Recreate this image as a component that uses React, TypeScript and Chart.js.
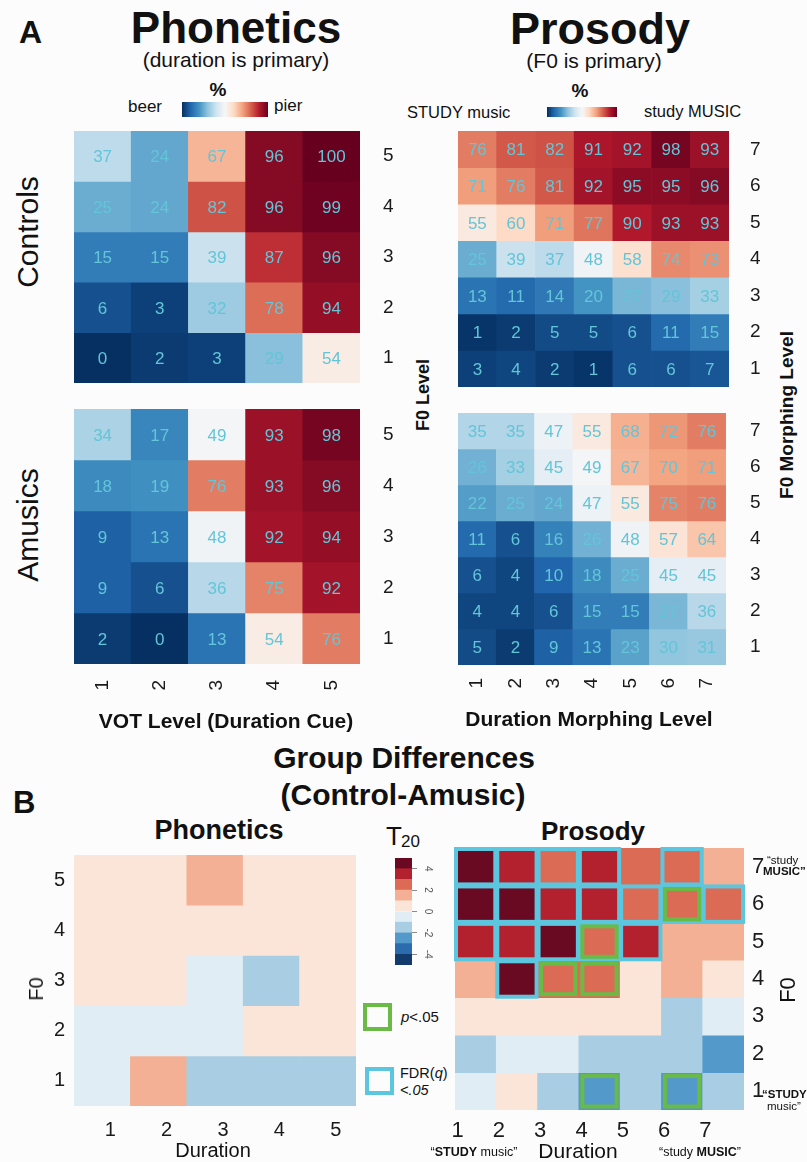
import React, { useEffect, useRef } from 'react';
import { Chart, registerables } from 'chart.js';

Chart.register(...registerables);

const FONT = '"Liberation Sans", Arial, Helvetica, sans-serif';

// ---------------- Data ----------------
// Panel A, Phonetics: % "pier" responses; rows = F0 level (top to bottom), columns = VOT level
const votLevels = ['1', '2', '3', '4', '5'];
const phonF0Levels = [5, 4, 3, 2, 1];
const phonControls = [
  [37, 24, 67, 96, 100],
  [25, 24, 82, 96, 99],
  [15, 15, 39, 87, 96],
  [6, 3, 32, 78, 94],
  [0, 2, 3, 29, 54],
];
const phonAmusics = [
  [34, 17, 49, 93, 98],
  [18, 19, 76, 93, 96],
  [9, 13, 48, 92, 94],
  [9, 6, 36, 75, 92],
  [2, 0, 13, 54, 76],
];

// Panel A, Prosody: % "study MUSIC" responses; rows = F0 morphing level, columns = duration morphing level
const durLevels = ['1', '2', '3', '4', '5', '6', '7'];
const prosF0Levels = [7, 6, 5, 4, 3, 2, 1];
const prosControls = [
  [76, 81, 82, 91, 92, 98, 93],
  [71, 76, 81, 92, 95, 95, 96],
  [55, 60, 71, 77, 90, 93, 93],
  [25, 39, 37, 48, 58, 74, 73],
  [13, 11, 14, 20, 27, 29, 33],
  [1, 2, 5, 5, 6, 11, 15],
  [3, 4, 2, 1, 6, 6, 7],
];
const prosAmusics = [
  [35, 35, 47, 55, 68, 72, 76],
  [26, 33, 45, 49, 67, 70, 71],
  [22, 25, 24, 47, 55, 75, 76],
  [11, 6, 16, 26, 48, 57, 64],
  [6, 4, 10, 18, 25, 45, 45],
  [4, 4, 6, 15, 15, 27, 36],
  [5, 2, 9, 13, 23, 30, 31],
];

// Panel B: group difference T(20) values (Control - Amusic)
const phonDiffT = [
  [0.4, 0.6, 1.3, 0.5, 0.3],
  [0.5, 0.4, 0.7, 0.6, 0.4],
  [0.3, 0.5, -0.4, -1.3, 0.6],
  [-0.3, -0.5, -0.6, 0.4, 0.5],
  [-0.2, 1.2, -1.4, -1.2, -1.1],
];
const prosDiffT = [
  [4.6, 3.5, 2.6, 3.4, 2.5, 2.4, 1.6],
  [4.7, 4.5, 3.4, 3.3, 2.5, 2.6, 2.4],
  [3.4, 3.5, 4.6, 2.5, 3.3, 1.5, 1.4],
  [1.5, 4.5, 2.4, 2.6, 0.5, 1.5, 0.4],
  [0.5, 0.6, 0.4, 0.5, 0.3, -1.5, -0.5],
  [-1.4, -0.5, -0.6, -1.5, -1.4, -1.6, -2.5],
  [-0.5, 0.4, -1.5, -2.4, -1.5, -2.5, -1.5],
];
// F = FDR(q)<.05, P = p<.05
const prosDiffSig = [
  ['F', 'F', 'F', 'F', '', 'F', ''],
  ['F', 'F', 'F', 'F', 'F', 'FP', 'F'],
  ['F', 'F', 'F', 'FP', 'F', '', ''],
  ['', 'F', 'P', 'P', '', '', ''],
  ['', '', '', '', '', '', ''],
  ['', '', '', '', '', '', ''],
  ['', '', '', 'P', '', 'P', ''],
];
const tBandEdges = [-5, -4, -3, -2, -1, 0, 1, 2, 3, 4, 5];
const tTicks = [-4, -2, 0, 2, 4];

// ---------------- Colour scales ----------------
const RDBU = ['#053061', '#2166ac', '#4393c3', '#92c5de', '#d1e5f0', '#f7f7f7', '#fddbc7', '#f4a582', '#d6604d', '#b2182b', '#67001f'];
const T_COLORS = ['#123a6c', '#2a6cad', '#5399c9', '#a9cee3', '#e0edf4', '#fbe4d8', '#f4b094', '#dc6b56', '#b3202e', '#6a0a22'];

function hexToRgb(h: string) {
  const n = parseInt(h.slice(1), 16);
  return [(n >> 16) & 255, (n >> 8) & 255, n & 255];
}
function pctColor(v: number) {
  const t = Math.max(0, Math.min(100, v)) / 10;
  const i = Math.min(9, Math.floor(t));
  const f = t - i;
  const a = hexToRgb(RDBU[i]);
  const b = hexToRgb(RDBU[i + 1]);
  const c = a.map((av, k) => Math.round(av + (b[k] - av) * f));
  return `rgb(${c[0]},${c[1]},${c[2]})`;
}
function tColor(v: number) {
  return T_COLORS[Math.max(0, Math.min(9, Math.floor(v + 5)))];
}

// ---------------- Heatmap (Chart.js floating bars) ----------------
type HeatProps = {
  plotX: number; plotY: number; plotW: number; plotH: number;
  xLabels: string[]; yLevels: number[]; values: number[][];
  color: (v: number) => string;
  showValues?: boolean; valueFont?: number;
  yPosition: 'left' | 'right'; yAxisW: number; yPad: number; yFont: number;
  showX: boolean; xAxisH: number; xPad: number; xFont: number; xRotation: number; xLabelOffset?: number;
  sig?: string[][];
};

function Heatmap(p: HeatProps) {
  const ref = useRef<HTMLCanvasElement>(null);
  const M = 6;
  const leftW = p.yPosition === 'left' ? p.yAxisW : 0;
  const rightW = p.yPosition === 'right' ? p.yAxisW : 0;
  const xH = p.showX ? p.xAxisH : 0;
  const cw = p.plotW + leftW + rightW + 2 * M;
  const ch = p.plotH + xH + 2 * M;
  const cl = p.plotX - leftW - M;
  const ct = p.plotY - M;

  useEffect(() => {
    const n = p.yLevels.length;
    const datasets = p.yLevels.map((lv, ri) => ({
      data: p.xLabels.map(() => [lv - 0.5, lv + 0.5]),
      backgroundColor: p.values[ri].map(p.color),
      borderWidth: 0,
      borderSkipped: false,
      barPercentage: 1,
      categoryPercentage: 1,
    }));
    const valuePlugin = {
      id: 'cellValues',
      afterDatasetsDraw(chart: any) {
        if (!p.showValues) return;
        const ctx = chart.ctx;
        const fs = p.valueFont || 17;
        ctx.save();
        ctx.font = `${fs}px ${FONT}`;
        ctx.fillStyle = '#62c5d8';
        ctx.textAlign = 'center';
        ctx.textBaseline = 'alphabetic';
        chart.data.datasets.forEach((_: any, di: number) => {
          const meta = chart.getDatasetMeta(di);
          meta.data.forEach((el: any, j: number) => {
            const { x, y, base } = el.getProps(['x', 'y', 'base'], true);
            ctx.fillText(String(p.values[di][j]), x, (y + base) / 2 + fs * 0.36);
          });
        });
        ctx.restore();
      },
    };
    const outlinePlugin = {
      id: 'sigOutlines',
      afterDatasetsDraw(chart: any) {
        if (!p.sig) return;
        const ctx = chart.ctx;
        ctx.save();
        const pass = (kind: string, color: string, inset: number) => {
          chart.data.datasets.forEach((_: any, di: number) => {
            const meta = chart.getDatasetMeta(di);
            meta.data.forEach((el: any, j: number) => {
              if (!p.sig![di][j].includes(kind)) return;
              const { x, y, base, width } = el.getProps(['x', 'y', 'base', 'width'], true);
              const top = Math.min(y, base);
              const h = Math.abs(base - y);
              ctx.strokeStyle = color;
              ctx.lineWidth = 4;
              ctx.strokeRect(x - width / 2 + inset, top + inset, width - 2 * inset, h - 2 * inset);
            });
          });
        };
        pass('F', '#5cc6df', 1);
        pass('P', '#69bb46', 3.5);
        ctx.restore();
      },
    };
    const chart = new Chart(ref.current as HTMLCanvasElement, {
      type: 'bar',
      data: { labels: p.xLabels, datasets: datasets as any },
      options: {
        responsive: false,
        animation: false,
        events: [],
        layout: { padding: { left: M, right: M, top: M, bottom: M } },
        plugins: { legend: { display: false }, tooltip: { enabled: false } },
        scales: {
          x: {
            type: 'category',
            stacked: true,
            offset: true,
            display: p.showX,
            grid: { display: false, drawTicks: false },
            border: { display: false },
            ticks: {
              padding: p.xPad,
              minRotation: p.xRotation,
              maxRotation: p.xRotation,
              labelOffset: p.xLabelOffset || 0,
              autoSkip: false,
              color: '#1a1a1a',
              font: { family: FONT, size: p.xFont },
            },
            afterFit: (s: any) => {
              s.height = p.xAxisH;
              s.paddingLeft = 0;
              s.paddingRight = 0;
            },
          },
          y: {
            type: 'linear',
            position: p.yPosition,
            min: 0.5,
            max: n + 0.5,
            grid: { display: false, drawTicks: false },
            border: { display: false },
            ticks: {
              padding: p.yPad,
              color: '#1a1a1a',
              font: { family: FONT, size: p.yFont },
              callback: (v: any) => String(v),
            },
            afterBuildTicks: (s: any) => {
              s.ticks = p.yLevels.slice().sort((a, b) => a - b).map((v) => ({ value: v }));
            },
            afterFit: (s: any) => {
              s.width = p.yAxisW;
              s.paddingTop = 0;
              s.paddingBottom = 0;
            },
          },
        },
      } as any,
      plugins: [valuePlugin, outlinePlugin],
    });
    return () => chart.destroy();
  }, []);

  return (
    <canvas
      ref={ref}
      width={cw}
      height={ch}
      style={{ position: 'absolute', left: cl, top: ct, width: cw, height: ch }}
    />
  );
}

// ---------------- T colour bar (Chart.js) ----------------
function TColorbar() {
  const ref = useRef<HTMLCanvasElement>(null);
  const plotX = 395, plotY = 858, plotW = 17, plotH = 107, M = 4, axisW = 30;
  const cl = plotX - M, ct = plotY - M, cw = plotW + axisW + 2 * M, ch = plotH + 2 * M;
  useEffect(() => {
    const bands = tBandEdges.slice(0, -1).map((lo, i) => [lo, tBandEdges[i + 1]]);
    const chart = new Chart(ref.current as HTMLCanvasElement, {
      type: 'bar',
      data: {
        labels: [''],
        datasets: bands.map(([lo, hi]) => ({
          data: [[lo, hi]],
          backgroundColor: tColor(lo + 0.5),
          borderWidth: 0,
          barPercentage: 1,
          categoryPercentage: 1,
        })) as any,
      },
      options: {
        responsive: false,
        animation: false,
        events: [],
        layout: { padding: M },
        plugins: { legend: { display: false }, tooltip: { enabled: false } },
        scales: {
          x: { stacked: true, display: false, offset: true },
          y: {
            type: 'linear',
            position: 'right',
            min: -5,
            max: 5,
            grid: { display: true, drawOnChartArea: false, drawTicks: true, tickLength: 5, color: '#8a8a8a' },
            border: { display: false },
            ticks: { display: false },
            afterBuildTicks: (s: any) => {
              s.ticks = tTicks.map((v) => ({ value: v }));
            },
            afterFit: (s: any) => {
              s.width = axisW;
              s.paddingTop = 0;
              s.paddingBottom = 0;
            },
          },
        },
      } as any,
      plugins: [
        {
          id: 'cbLabels',
          afterDraw(c: any) {
            const s = c.scales.y;
            const ctx = c.ctx;
            ctx.save();
            ctx.fillStyle = '#555';
            ctx.font = `10px ${FONT}`;
            ctx.textAlign = 'center';
            ctx.textBaseline = 'middle';
            tTicks.forEach((t) => {
              const y = s.getPixelForValue(t);
              ctx.save();
              ctx.translate(s.left + 16, y);
              ctx.rotate(Math.PI / 2);
              ctx.fillText(String(t), 0, 0);
              ctx.restore();
            });
            ctx.restore();
          },
        },
      ],
    });
    return () => chart.destroy();
  }, []);
  return (
    <canvas ref={ref} width={cw} height={ch} style={{ position: 'absolute', left: cl, top: ct, width: cw, height: ch }} />
  );
}

// ---------------- Text helpers ----------------
type TxtProps = {
  x: number; y: number; size: number; bold?: boolean; italic?: boolean;
  align?: 'left' | 'center' | 'right'; color?: string; children: React.ReactNode;
};
function Txt({ x, y, size, bold, italic, align = 'left', color = '#111', children }: TxtProps) {
  const top = y - 0.8465 * size;
  const transform = align === 'center' ? 'translateX(-50%)' : align === 'right' ? 'translateX(-100%)' : undefined;
  return (
    <div
      style={{
        position: 'absolute', left: x, top, fontSize: size, lineHeight: `${size}px`,
        fontWeight: bold ? 700 : 400, fontStyle: italic ? 'italic' : 'normal',
        whiteSpace: 'nowrap', transform, color, fontFamily: FONT,
      }}
    >
      {children}
    </div>
  );
}
function VTxt({ cx, cy, size, bold, children }: { cx: number; cy: number; size: number; bold?: boolean; children: React.ReactNode }) {
  return (
    <div
      style={{
        position: 'absolute', left: cx, top: cy, transform: 'translate(-50%,-50%) rotate(-90deg)',
        fontSize: size, lineHeight: `${size}px`, fontWeight: bold ? 700 : 400, whiteSpace: 'nowrap',
        color: '#111', fontFamily: FONT,
      }}
    >
      {children}
    </div>
  );
}

const gradient = `linear-gradient(to right, ${RDBU.join(', ')})`;

export default function App() {
  return (
    <div
      style={{
        position: 'fixed', left: 0, top: 0, width: 807, height: 1162, overflow: 'hidden',
        background: '#fcfcfd', fontFamily: FONT, color: '#111',
      }}
    >
      {/* ----- Panel A headers ----- */}
      <Txt x={19} y={43} size={32} bold>A</Txt>
      <Txt x={236} y={43} size={44} bold align="center">Phonetics</Txt>
      <Txt x={236} y={67} size={21} align="center">(duration is primary)</Txt>
      <Txt x={218} y={96} size={19} bold align="center">%</Txt>
      <Txt x={128} y={112} size={17}>beer</Txt>
      <div style={{ position: 'absolute', left: 182, top: 102, width: 86, height: 15, background: gradient }} />
      <Txt x={274} y={111} size={17}>pier</Txt>

      <Txt x={600} y={44} size={45} bold align="center">Prosody</Txt>
      <Txt x={594} y={68} size={21} align="center">(F0 is primary)</Txt>
      <Txt x={580} y={97} size={19} bold align="center">%</Txt>
      <Txt x={407} y={118} size={16.5}>STUDY music</Txt>
      <div style={{ position: 'absolute', left: 547, top: 107, width: 70, height: 10, background: gradient }} />
      <Txt x={644} y={117} size={16.5}>study MUSIC</Txt>

      <VTxt cx={28} cy={232} size={30}>Controls</VTxt>
      <VTxt cx={28} cy={525} size={30}>Amusics</VTxt>

      {/* ----- Panel A heatmaps ----- */}
      <Heatmap
        plotX={74} plotY={131} plotW={286} plotH={252}
        xLabels={votLevels} yLevels={phonF0Levels} values={phonControls} color={pctColor}
        showValues valueFont={17}
        yPosition="right" yAxisW={40} yPad={23} yFont={19}
        showX={false} xAxisH={0} xPad={0} xFont={19} xRotation={90}
      />
      <Heatmap
        plotX={74} plotY={409} plotW={286} plotH={255}
        xLabels={votLevels} yLevels={phonF0Levels} values={phonAmusics} color={pctColor}
        showValues valueFont={17}
        yPosition="right" yAxisW={40} yPad={23} yFont={19}
        showX xAxisH={40} xPad={16} xFont={19} xRotation={90}
      />
      <Heatmap
        plotX={458} plotY={131} plotW={271} plotH={256}
        xLabels={durLevels} yLevels={prosF0Levels} values={prosControls} color={pctColor}
        showValues valueFont={17}
        yPosition="right" yAxisW={40} yPad={21} yFont={19}
        showX={false} xAxisH={0} xPad={0} xFont={19} xRotation={90}
      />
      <Heatmap
        plotX={458} plotY={413} plotW={268} plotH={252}
        xLabels={durLevels} yLevels={prosF0Levels} values={prosAmusics} color={pctColor}
        showValues valueFont={17}
        yPosition="right" yAxisW={40} yPad={24} yFont={19}
        showX xAxisH={36} xPad={13} xFont={19} xRotation={90}
      />

      <VTxt cx={423} cy={395} size={18} bold>F0 Level</VTxt>
      <VTxt cx={786} cy={415} size={19} bold>F0 Morphing Level</VTxt>
      <Txt x={226} y={728} size={21} bold align="center">VOT Level (Duration Cue)</Txt>
      <Txt x={589} y={726} size={21} bold align="center">Duration Morphing Level</Txt>

      {/* ----- Panel B ----- */}
      <Txt x={404} y={768} size={30} bold align="center">Group Differences</Txt>
      <Txt x={403} y={805} size={30} bold align="center">(Control-Amusic)</Txt>
      <Txt x={13} y={813} size={31} bold>B</Txt>
      <Txt x={219} y={840} size={27} bold align="center">Phonetics</Txt>
      <Txt x={593} y={840} size={26} bold align="center">Prosody</Txt>

      <Heatmap
        plotX={74} plotY={855} plotW={282} plotH={251}
        xLabels={votLevels} yLevels={phonF0Levels} values={phonDiffT} color={tColor}
        yPosition="left" yAxisW={30} yPad={9} yFont={20}
        showX xAxisH={30} xPad={12} xFont={20} xRotation={0} xLabelOffset={8}
      />
      <VTxt cx={36} cy={989} size={20}>F0</VTxt>
      <Txt x={213} y={1157} size={20} align="center">Duration</Txt>

      <Heatmap
        plotX={455} plotY={848} plotW={289} plotH={262}
        xLabels={durLevels} yLevels={prosF0Levels} values={prosDiffT} color={tColor}
        sig={prosDiffSig}
        yPosition="right" yAxisW={30} yPad={8} yFont={22}
        showX xAxisH={30} xPad={8} xFont={22} xRotation={0} xLabelOffset={-18}
      />
      <VTxt cx={788} cy={990} size={22}>F0</VTxt>
      <Txt x={578} y={1158} size={21} align="center">Duration</Txt>
      <Txt x={474} y={1157} size={12.5} align="center">“<b>STUDY</b> music”</Txt>
      <Txt x={700} y={1157} size={12.5} align="center">“study <b>MUSIC</b>”</Txt>
      <Txt x={767} y={865} size={11.5}>“study</Txt>
      <Txt x={763} y={876} size={11.5} bold>MUSIC”</Txt>
      <Txt x={762} y={1099} size={11.5} bold>“STUDY</Txt>
      <Txt x={767} y={1111} size={11.5}>music”</Txt>

      {/* T20 legend */}
      <Txt x={386} y={845} size={26}>T</Txt>
      <Txt x={401} y={847} size={17}>20</Txt>
      <TColorbar />

      <div style={{ position: 'absolute', left: 363, top: 1003, width: 29, height: 28, border: '4px solid #69bb46', boxSizing: 'border-box' }} />
      <Txt x={401} y={1022} size={15}><i>p</i>&lt;.05</Txt>
      <div style={{ position: 'absolute', left: 365, top: 1067, width: 29, height: 28, border: '4px solid #5cc6df', boxSizing: 'border-box' }} />
      <Txt x={400} y={1078} size={14.5}>FDR(<i>q</i>)</Txt>
      <Txt x={400} y={1095} size={14.5} italic>&lt;.05</Txt>
    </div>
  );
}
